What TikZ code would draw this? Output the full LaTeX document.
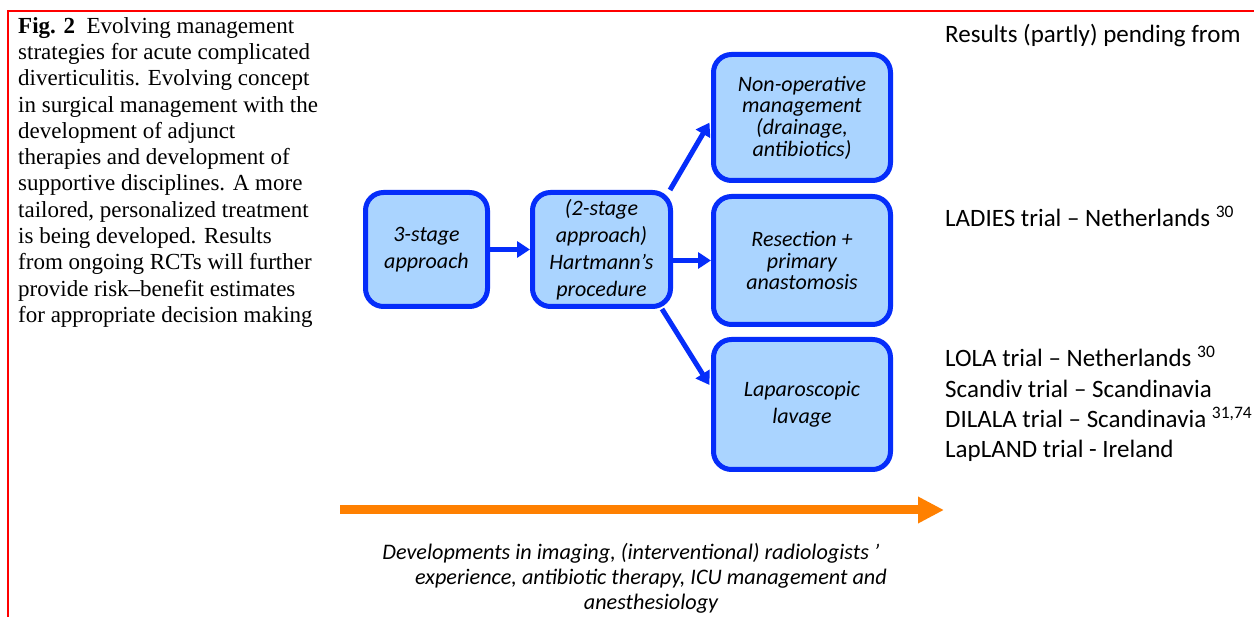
\documentclass[tikz,border=0pt]{standalone}
\usepackage{fontspec}
\setmainfont{Carlito}
\newfontfamily\capfont{Liberation Serif}
\usetikzlibrary{arrows.meta}
\definecolor{boxblue}{RGB}{5,45,250}
\definecolor{boxfill}{RGB}{170,212,255}
\definecolor{arrorange}{RGB}{255,128,0}
\begin{document}
\begin{tikzpicture}[x=1pt,y=-1pt,
  stagebox/.style={draw=boxblue, fill=boxfill, line width=5pt, rounded corners=18pt,
    align=center, font=\itshape\fontsize{22}{27}\selectfont, inner sep=0pt},
  tightbox/.style={stagebox, font=\itshape\fontsize{22}{21.7}\selectfont},
  flow/.style={draw=boxblue, line width=5pt, -{Triangle[length=13pt,width=16pt]}},
  trial/.style={anchor=base west, inner sep=0pt, font=\fontsize{25}{30}\selectfont}]
\useasboundingbox (0,0) rectangle (1254,617);
\fill[white] (0,0) rectangle (1254,617);
% frame
\draw[red, line width=2pt] (8,617) -- (8,11) -- (1254,11);
% caption
\node[anchor=north west, inner sep=0pt, align=left,
  font=\capfont\fontsize{23}{26.3}\selectfont] (cap) at (18,17)
  {\textbf{Fig. 2}\enspace Evolving management\\
   strategies for acute complicated\\
   diverticulitis. Evolving concept\\
   in surgical management with the\\
   development of adjunct\\
   therapies and development of\\
   supportive disciplines. A more\\
   tailored, personalized treatment\\
   is being developed. Results\\
   from ongoing RCTs will further\\
   provide risk–benefit estimates\\
   for appropriate decision making};
% boxes
\node[stagebox, minimum width=122pt, minimum height=114pt] (s3) at (426.5,249.5) {3-stage\\approach};
\node[stagebox, minimum width=138pt, minimum height=114pt] (s2) at (601.5,249.5) {(2-stage\\approach)\\Hartmann’s\\procedure};
\node[tightbox, minimum width=177pt, minimum height=126pt] (nop) at (802,117.5) {Non-operative\\management\\(drainage,\\antibiotics)};
\node[tightbox, minimum width=177pt, minimum height=128pt] (res) at (802,260.5) {Resection +\\primary\\anastomosis};
\node[stagebox, minimum width=177pt, minimum height=130pt] (lap) at (802,404.5) {Laparoscopic\\lavage};
% connectors
\draw[flow] (s3.east) -- (s2.west);
\draw[flow] (s2.east |- res.west) -- (res.west);
\draw[flow, shorten >=3pt] ([xshift=-3pt]s2.north east) -- ([yshift=-2.5pt]nop.west);
\draw[flow, shorten >=3pt] ([xshift=-11pt]s2.south east) -- ([yshift=17pt]lap.west);
% trials
\node[trial] (rp) at (945,43) {Results (partly) pending from};
\node[trial] (t1) at (945,227) {LADIES trial – Netherlands \textsuperscript{30}};
\node[trial] (t2) at (945,367) {LOLA trial – Netherlands \textsuperscript{30}};
\node[trial] (t3) at (945,398) {Scandiv trial – Scandinavia};
\node[trial] (t4) at (945,428) {DILALA trial – Scandinavia \textsuperscript{31,74}};
\node[trial] (t5) at (945,458) {LapLAND trial - Ireland};
% orange arrow
\coordinate (o1) at (340,510);
\coordinate (o2) at (944,510);
\draw[arrorange, line width=9pt, -{Triangle[length=26pt,width=25pt]}] (o1) -- (o2);
\node[anchor=north, inner sep=0pt, align=center,
  font=\itshape\fontsize{22.2}{25}\selectfont] (dev) at (651,543)
  {Developments in imaging, (interventional) radiologists ’\hspace*{40pt}\\
   experience, antibiotic therapy, ICU management and\\
   anesthesiology};
\end{tikzpicture}
\end{document}
